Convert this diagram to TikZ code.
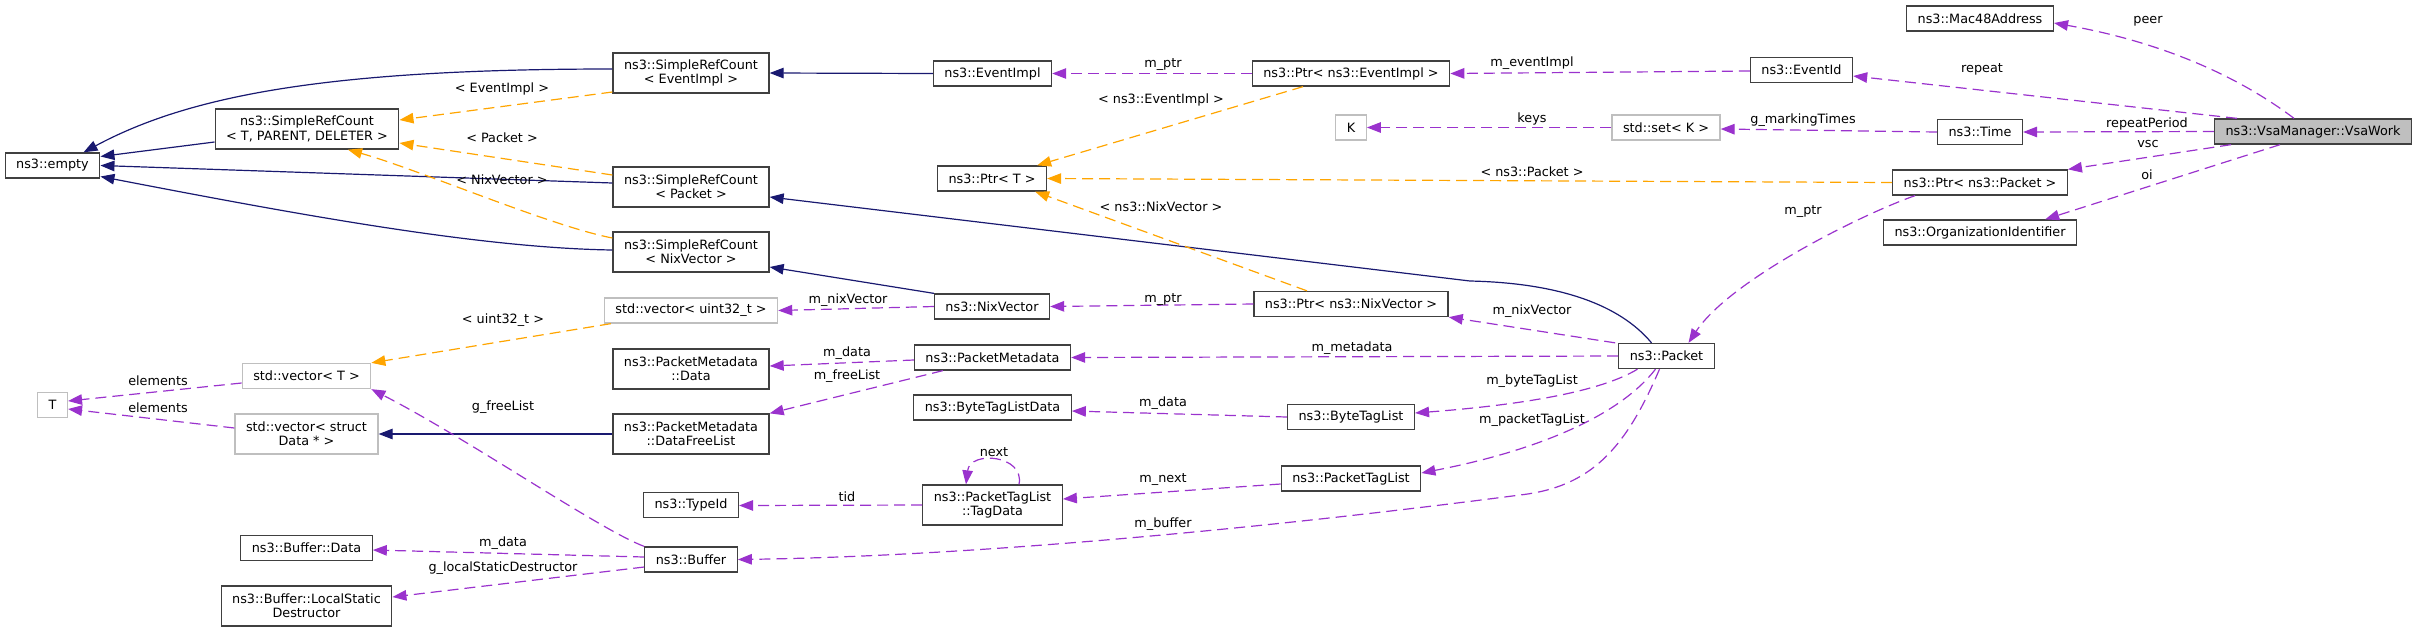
\documentclass[tikz,border=0pt]{standalone}
\usepackage{fontspec}
\setmainfont{DejaVu Sans}
\usetikzlibrary{arrows.meta,calc}
\definecolor{edgenavy}{HTML}{191970}
\definecolor{edgepurple}{HTML}{9A32CD}
\definecolor{edgeorange}{HTML}{FFA500}
\definecolor{boxgray}{HTML}{404040}
\definecolor{extgray}{HTML}{BFBFBF}
\begin{document}
\begin{tikzpicture}[
        x=1pt, y=-1pt,
        font=\fontsize{12.8}{14.3}\selectfont,
        cls/.style={draw=boxgray, line width=1.3pt, inner xsep=11pt, inner ysep=2pt, minimum height=25pt, align=center},
        extcls/.style={cls, draw=extgray},
        selfcls/.style={cls, fill=extgray},
        twoline/.style={minimum height=40pt},
        lbl/.style={inner sep=0pt},
        tip/.style={-{Triangle[length=14pt,width=10.5pt]}},
        inherit/.style={draw=edgenavy, line width=1.2pt, tip},
        member/.style={draw=edgepurple, line width=1.2pt, dash pattern=on 11pt off 6pt, tip},
        templ/.style={draw=edgeorange, line width=1.2pt, dash pattern=on 11pt off 6pt, tip},
    ]
    \useasboundingbox (0,0) rectangle (2419,633);

    \node[cls](empty) at (52.5,165.5){ns3::empty};
    \node[cls, twoline](srcT) at (307,129){ns3::SimpleRefCount\\< T, PARENT, DELETER >};
    \node[cls, twoline](srcEv) at (691,73){ns3::SimpleRefCount\\< EventImpl >};
    \node[cls, twoline](srcPk) at (691,187){ns3::SimpleRefCount\\< Packet >};
    \node[cls, twoline](srcNix) at (691,252){ns3::SimpleRefCount\\< NixVector >};
    \node[cls](evImpl) at (992.5,73.5){ns3::EventImpl};
    \node[cls](ptrT) at (992,178.5){ns3::Ptr< T >};
    \node[cls](ptrEv) at (1351,73.5){ns3::Ptr< ns3::EventImpl >};
    \node[extcls](keyK) at (1351,127.5){K};
    \node[extcls](setK) at (1666,127.5){std::set< K >};
    \node[cls](eventId) at (1801.5,70){ns3::EventId};
    \node[cls](mac) at (1980,18.5){ns3::Mac48Address};
    \node[cls](time) at (1980,132){ns3::Time};
    \node[selfcls](vsaWork) at (2313,131.5){ns3::VsaManager::VsaWork};
    \node[cls](ptrPk) at (1980,182.5){ns3::Ptr< ns3::Packet >};
    \node[cls](orgId) at (1980,232.5){ns3::OrganizationIdentifier};
    \node[extcls](typT) at (52.5,405){T};
    \node[extcls](vecT) at (306.5,376){std::vector< T >};
    \node[extcls, twoline](vecData) at (306.5,434){std::vector< struct\\Data * >};
    \node[extcls](vecU32) at (691,310.5){std::vector< uint32\_t >};
    \node[cls](nixVec) at (992,306.5){ns3::NixVector};
    \node[cls, twoline](pmData) at (691,369){ns3::PacketMetadata\\::Data};
    \node[cls](pm) at (992.5,357.5){ns3::PacketMetadata};
    \node[cls](btlData) at (992.5,407.5){ns3::ByteTagListData};
    \node[cls, twoline](pmFree) at (691,434){ns3::PacketMetadata\\::DataFreeList};
    \node[cls](ptrNix) at (1351,304){ns3::Ptr< ns3::NixVector >};
    \node[cls](packet) at (1666.5,356){ns3::Packet};
    \node[cls](btl) at (1351,417){ns3::ByteTagList};
    \node[cls](typeId) at (691,505){ns3::TypeId};
    \node[cls, twoline](tagData) at (992.5,505){ns3::PacketTagList\\::TagData};
    \node[cls](buffer) at (691,559.5){ns3::Buffer};
    \node[cls](ptl) at (1351,478.5){ns3::PacketTagList};
    \node[cls](bufData) at (306.5,548){ns3::Buffer::Data};
    \node[cls, twoline](bufLsd) at (306.5,606){ns3::Buffer::LocalStatic\\Destructor};

    \draw[inherit] ($(srcEv.west)+(0,-4)$) .. controls (330,69) and (190,95) .. ($(empty.north)+(31,0)$);
    \draw[inherit] ($(srcT.west)+(0,13)$) -- ($(empty.east)+(0,-9)$);
    \draw[inherit] ($(srcPk.west)+(0,-4)$) -- (empty.east);
    \draw[inherit] ($(srcNix.west)+(0,-2)$) .. controls (480,248) and (300,215) .. ($(empty.east)+(0,11)$);
    \draw[templ] ($(srcEv.west)+(0,19)$) -- ($(srcT.east)+(0,-9)$);
    \draw[templ] ($(srcPk.west)+(0,-12)$) -- ($(srcT.east)+(0,14)$);
    \draw[templ] ($(srcNix.west)+(0,-14)$) .. controls (550,226) and (420,170) .. ($(srcT.south)+(41,0)$);
    \draw[inherit] (evImpl.west) -- (srcEv.east);
    \draw[inherit] (nixVec.north west) -- ($(srcNix.east)+(0,15)$);
    \draw[inherit] ($(packet.north)+(-15,0)$) .. controls (1620,305) and (1560,283) .. (1470,281) -- ($(srcPk.east)+(0,10)$);

    \draw[member] (ptrEv.west) -- (evImpl.east);
    \draw[templ] ($(ptrEv.south)+(-48,0)$) -- ($(ptrT.north east)+(-10,0)$);
    \draw[templ] ($(ptrNix.north)+(-44,0)$) -- ($(ptrT.south east)+(-12,0)$);
    \draw[templ] (ptrPk.west) -- (ptrT.east);
    \draw[member] ($(eventId.west)+(0,1)$) -- (ptrEv.east);
    \draw[member] (setK.west) -- (keyK.east);
    \draw[member] (time.west) -- ($(setK.east)+(0,1.5)$);
    \draw[member] ($(vsaWork.north)+(-19,0)$) .. controls (2230,70) and (2150,40) .. ($(mac.east)+(0,4.5)$);
    \draw[member] ($(vsaWork.north)+(-76,0)$) -- ($(eventId.east)+(0,6)$);
    \draw[member] (vsaWork.west) -- (time.east);
    \draw[member] ($(vsaWork.south)+(-82,0)$) -- (ptrPk.north east);
    \draw[member] ($(vsaWork.south)+(-33,0)$) -- ($(orgId.north east)+(-32,0)$);
    \draw[member] ($(ptrPk.south)+(-65,0)$) .. controls (1860,215) and (1730,280) .. ($(packet.north)+(22,0)$);
    \draw[member] (ptrNix.west) -- (nixVec.east);
    \draw[member] (nixVec.west) -- (vecU32.east);
    \draw[templ] ($(vecU32.south west)+(7,0)$) -- (vecT.north east);
    \draw[member] ($(packet.north west)+(-3,0)$) -- (ptrNix.south east);
    \draw[member] (packet.west) -- (pm.east);
    \draw[member] ($(packet.south)+(-29,0)$) .. controls (1600,392) and (1520,405) .. ($(btl.east)+(0,-4)$);
    \draw[member] ($(packet.south)+(-11,0)$) .. controls (1620,415) and (1540,450) .. ($(ptl.east)+(0,-5.5)$);
    \draw[member] ($(packet.south)+(-7,0)$) .. controls (1625,450) and (1590,487) .. (1520,495)
        .. controls (1420,508) and (1050,555) .. (buffer.east);
    \draw[member] ($(pm.west)+(0,2.5)$) -- ($(pmData.east)+(0,-3)$);
    \draw[member] ($(pm.south west)+(29,0)$) -- (pmFree.north east);
    \draw[member] (btl.west) -- ($(btlData.east)+(0,3.5)$);
    \draw[inherit] (pmFree.west) -- (vecData.east);
    \draw[member] ($(vecT.west)+(0,7)$) -- ($(typT.east)+(0,-4)$);
    \draw[member] ($(vecData.west)+(0,-6)$) -- ($(typT.east)+(0,4)$);
    \draw[member] (buffer.north west) .. controls (600,530) and (470,440) .. (vecT.south east);
    \draw[member] (tagData.west) -- ($(typeId.east)+(0,0.5)$);
    \draw[member] ($(tagData.north)+(26.5,0)$) .. controls (1025,455) and (970,450) .. ($(tagData.north)+(-26.5,0)$);
    \draw[member] ($(ptl.west)+(0,5.5)$) -- ($(tagData.east)+(0,-6)$);
    \draw[member] ($(buffer.west)+(0,-2.5)$) -- ($(bufData.east)+(0,2)$);
    \draw[member] ($(buffer.west)+(0,7.5)$) -- ($(bufLsd.east)+(0,-9)$);

    \node[lbl](lEvImpl) at (502,89){< EventImpl >};
    \node[lbl](lPk) at (502,138){< Packet >};
    \node[lbl](lNix) at (502,180){< NixVector >};
    \node[lbl](lPtrEv) at (1163,65){m\_ptr};
    \node[lbl](lEvTpl) at (1161,100){< ns3::EventImpl >};
    \node[lbl](lNixTpl) at (1161,207){< ns3::NixVector >};
    \node[lbl](lPkTpl) at (1532,172){< ns3::Packet >};
    \node[lbl](lEvtImpl) at (1532,63){m\_eventImpl};
    \node[lbl](lKeys) at (1532,119){keys};
    \node[lbl](lMark) at (1803,120){g\_markingTimes};
    \node[lbl](lPeer) at (2148,21){peer};
    \node[lbl](lRepeat) at (1982,69){repeat};
    \node[lbl](lPeriod) at (2147,124){repeatPeriod};
    \node[lbl](lVsc) at (2148,144){vsc};
    \node[lbl](lOi) at (2147,175){oi};
    \node[lbl](lPtrPk) at (1803,212){m\_ptr};
    \node[lbl](lPtrNix) at (1163,300){m\_ptr};
    \node[lbl](lNixVec) at (848,300){m\_nixVector};
    \node[lbl](lU32) at (503,320){< uint32\_t >};
    \node[lbl](lPkNix) at (1532,311){m\_nixVector};
    \node[lbl](lMeta) at (1352,348){m\_metadata};
    \node[lbl](lBtl) at (1532,381){m\_byteTagList};
    \node[lbl](lPtl) at (1532,420){m\_packetTagList};
    \node[lbl](lBuf) at (1163,524){m\_buffer};
    \node[lbl](lPmData) at (847,353){m\_data};
    \node[lbl](lFree) at (847,376){m\_freeList};
    \node[lbl](lBtlData) at (1163,403){m\_data};
    \node[lbl](lElemT) at (158,381){elements};
    \node[lbl](lElemD) at (158,408){elements};
    \node[lbl](lGfree) at (503,407){g\_freeList};
    \node[lbl](lTid) at (847,497){tid};
    \node[lbl](lNext) at (994,452){next};
    \node[lbl](lMnext) at (1163,480){m\_next};
    \node[lbl](lBufData) at (503,543){m\_data};
    \node[lbl](lLsd) at (503,568){g\_localStaticDestructor};

\end{tikzpicture}
\end{document}
